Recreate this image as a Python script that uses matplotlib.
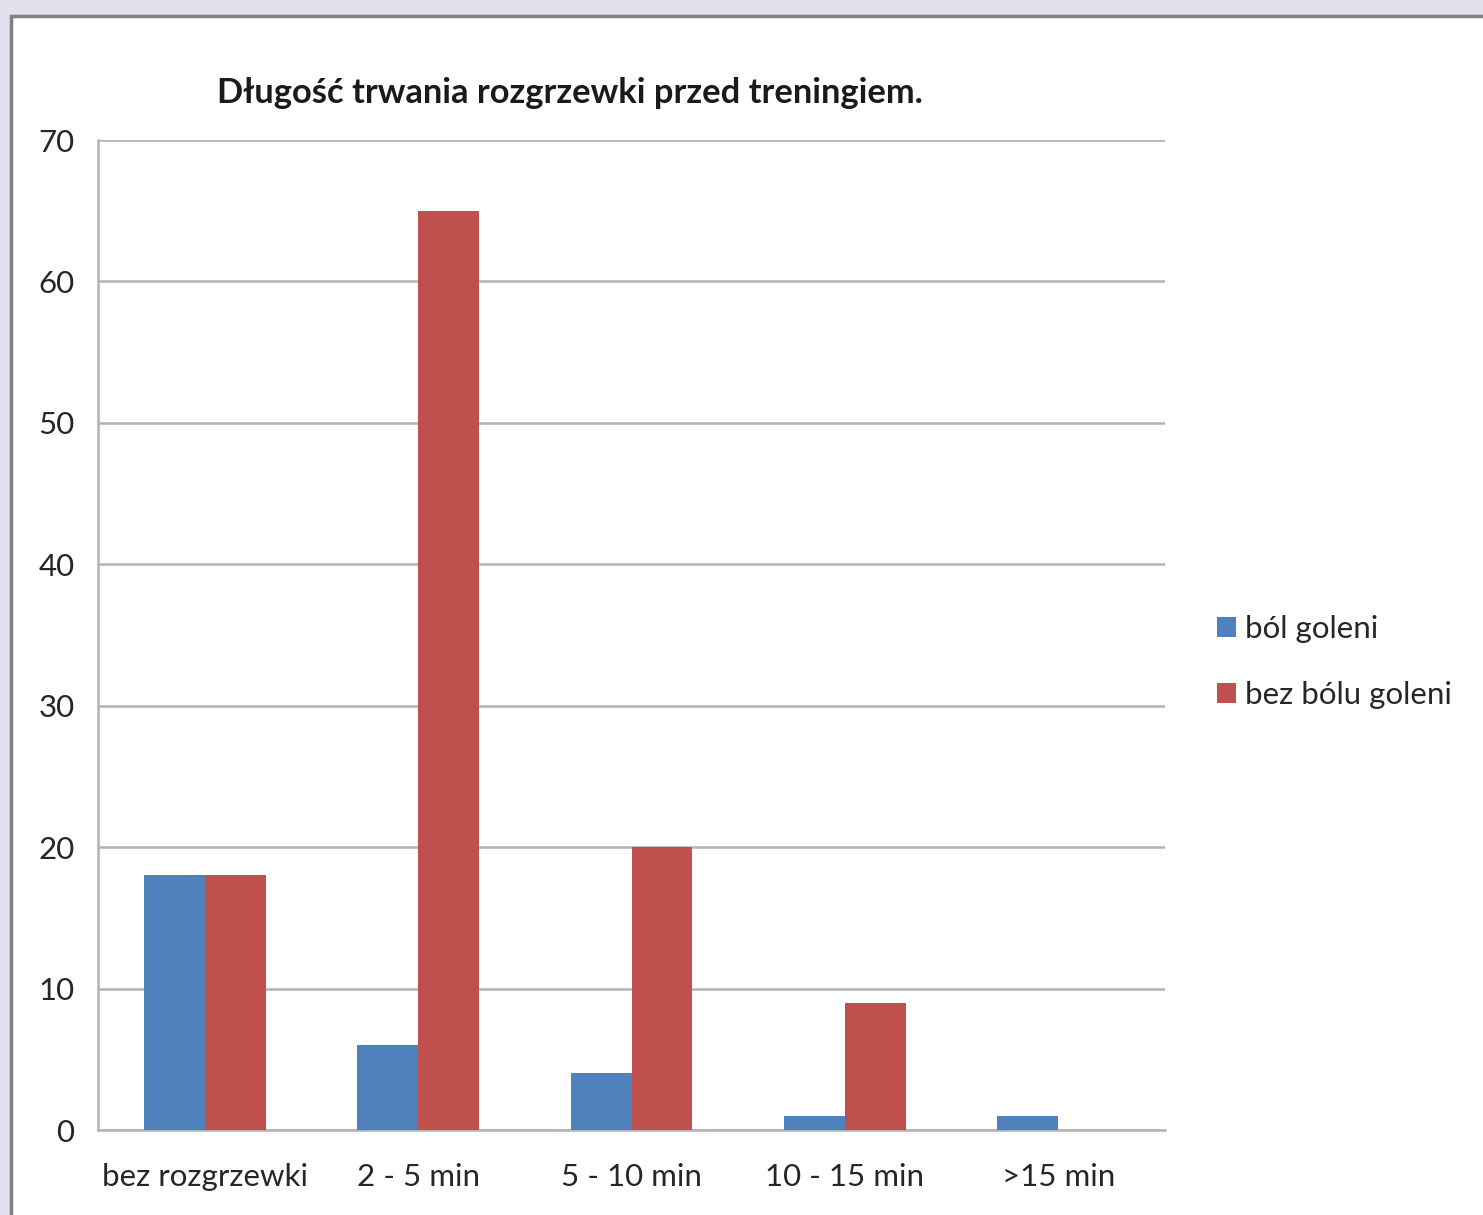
import numpy as np
import matplotlib.pyplot as plt
from matplotlib.patches import Rectangle

categories = ["bez rozgrzewki", "2 - 5 min", "5 - 10 min", "10 - 15 min", ">15 min"]
bol_goleni = [18, 6, 4, 1, 1]
bez_bolu_goleni = [18, 65, 20, 9, 0]
series_names = ["ból goleni", "bez bólu goleni"]
y_ticks = [0, 10, 20, 30, 40, 50, 60, 70]

BLUE = "#4F81BD"
RED = "#C0504D"
GRID = "#B3B3B3"

plt.rcParams["font.family"] = ["Lato", "DejaVu Sans"]

W, H = 1483, 1215
fig = plt.figure(figsize=(W / 100, H / 100), dpi=100)
fig.patch.set_facecolor("#E4DFEC")

# white sheet with grey edge on top and left
sheet = Rectangle((11 / W, -0.01), 1.0, (H - 16) / H + 0.01, transform=fig.transFigure,
                  facecolor="white", edgecolor="#7F7F7F", linewidth=2.5, zorder=-10)
fig.patches.append(sheet)

ax = fig.add_axes([98 / W, (H - 1130) / H, (1165 - 98) / W, (1130 - 140) / H])
ax.set_facecolor("none")

x = np.arange(len(categories))
w = 1 / 3.5
ax.bar(x - w / 2, bol_goleni, width=w, color=BLUE, label=series_names[0], zorder=3)
ax.bar(x + w / 2, bez_bolu_goleni, width=w, color=RED, label=series_names[1], zorder=3)

ax.set_xlim(-0.5, len(categories) - 0.5)
ax.set_ylim(0, 70)
ax.set_yticks(y_ticks)
ax.set_xticks(x)
ax.set_xticklabels(categories)
ax.yaxis.grid(True, color=GRID, linewidth=1.8)
ax.set_axisbelow(True)

for side in ["top", "right"]:
    ax.spines[side].set_visible(False)
for side in ["left", "bottom"]:
    ax.spines[side].set_color(GRID)
    ax.spines[side].set_linewidth(1.8)

ax.tick_params(length=0, labelsize=22.5, colors="#262626")
ax.tick_params(axis="y", pad=17)
ax.tick_params(axis="x", pad=24)

fig.text(570 / W, (H - 93) / H, "Długość trwania rozgrzewki przed treningiem.",
         ha="center", va="center", fontsize=24.8, fontweight="bold", color="#1a1a1a")

leg = fig.legend(loc="upper left", bbox_to_anchor=(1189 / W, (H - 587) / H),
                 frameon=False, fontsize=22.5, handlelength=0.6, handleheight=0.6,
                 handletextpad=0.3, labelspacing=1.2, labelcolor="#262626")

fig.savefig("out.png", dpi=100, facecolor=fig.get_facecolor())
